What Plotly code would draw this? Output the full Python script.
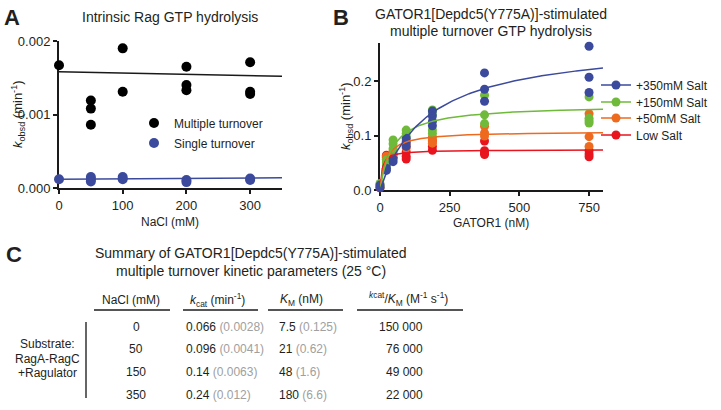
import plotly.graph_objects as go

W, H = 721, 410
FONT = "Liberation Sans, Arial, Helvetica, sans-serif"
TXT = "#231f20"

# ---------------- Panel A data ----------------
a_multi_x = [0, 50, 50, 50, 100, 100, 200, 200, 200, 300, 300, 300]
a_multi_y = [0.00167, 0.00119, 0.00108, 0.00086, 0.00190, 0.00131,
             0.00165, 0.00140, 0.00133, 0.00171, 0.00131, 0.00128]
a_single_x = [0, 50, 50, 50, 100, 100, 200, 200, 300, 300]
a_single_y = [0.00012, 0.00015, 0.00012, 0.00009, 0.00015, 0.00012,
              0.00011, 0.00008, 0.00013, 0.00011]
a_fit_intercept = [0.00158, 0.00012]   # multiple, single
a_fit_slope = [-1.7e-7, 5.7e-8]
a_fit_x = [0, 350]

# ---------------- Panel B data ----------------
b_names = ["+350mM Salt", "+150mM Salt", "+50mM Salt", "Low Salt"]
b_colors = ["#3B4A9C", "#6FBA3A", "#EE6A1F", "#E8141E"]

b350_x = [0, 0, 23, 23, 47, 47, 94, 94, 94, 188, 188, 188, 188, 375, 375, 375, 750, 750, 750]
b350_y = [0.009, 0.004, 0.040, 0.036, 0.052, 0.057, 0.095, 0.087, 0.080,
          0.145, 0.136, 0.126, 0.118, 0.215, 0.185, 0.163, 0.264, 0.207, 0.179]
b150_x = [0, 0, 23, 23, 23, 47, 47, 47, 94, 94, 94, 188, 188, 188, 188, 375, 375, 375, 750, 750, 750, 750]
b150_y = [0.012, 0.006, 0.055, 0.050, 0.045, 0.092, 0.085, 0.076, 0.110, 0.104, 0.098,
          0.147, 0.140, 0.110, 0.104, 0.174, 0.138, 0.122, 0.171, 0.132, 0.127, 0.123]
b50_x = [0, 23, 23, 23, 47, 47, 94, 94, 94, 188, 188, 188, 375, 375, 375, 750, 750, 750]
b50_y = [0.008, 0.062, 0.058, 0.055, 0.072, 0.066, 0.090, 0.083, 0.077,
         0.097, 0.092, 0.086, 0.117, 0.105, 0.099, 0.140, 0.098, 0.080]
blow_x = [0, 23, 23, 23, 47, 47, 94, 94, 94, 188, 188, 188, 375, 375, 375, 375, 750, 750, 750]
blow_y = [0.004, 0.064, 0.060, 0.056, 0.066, 0.060, 0.070, 0.062, 0.057,
          0.090, 0.080, 0.073, 0.090, 0.072, 0.068, 0.065, 0.072, 0.066, 0.061]
b_fit_vmax = [0.272, 0.157, 0.108, 0.074]
b_fit_km = [172, 46, 21, 7.5]
b_fit_xmax = 800

# ---------------- Panel C table ----------------
c_nacl = ["0", "50", "150", "350"]
c_kcat = ["0.066", "0.096", "0.14", "0.24"]
c_kcat_err = ["0.0028", "0.0041", "0.0063", "0.012"]
c_km = ["7.5", "21", "48", "180"]
c_km_err = ["0.125", "0.62", "1.6", "6.6"]
c_eff = ["150 000", "76 000", "49 000", "22 000"]


def px(x):
    return x / W


def py(y):
    return 1 - y / H


fig = go.Figure()

# ---- Panel A traces ----
fig.add_trace(go.Scatter(
    x=a_fit_x, y=[a_fit_intercept[0] + a_fit_slope[0] * v for v in a_fit_x],
    mode="lines", line=dict(color="#1a1a1a", width=1.5), showlegend=False,
    xaxis="x", yaxis="y", hoverinfo="skip"))
fig.add_trace(go.Scatter(
    x=a_fit_x, y=[a_fit_intercept[1] + a_fit_slope[1] * v for v in a_fit_x],
    mode="lines", line=dict(color="#3B4A9C", width=1.5), showlegend=False,
    xaxis="x", yaxis="y", hoverinfo="skip"))
fig.add_trace(go.Scatter(
    x=a_multi_x, y=a_multi_y, mode="markers", name="Multiple turnover",
    marker=dict(color="#000000", size=10), xaxis="x", yaxis="y",
    cliponaxis=False, legend="legend"))
fig.add_trace(go.Scatter(
    x=a_single_x, y=a_single_y, mode="markers", name="Single turnover",
    marker=dict(color="#3B4A9C", size=10), xaxis="x", yaxis="y",
    cliponaxis=False, legend="legend2"))

# ---- Panel B traces ----
b_xs = [b350_x, b150_x, b50_x, blow_x]
b_ys = [b350_y, b150_y, b50_y, blow_y]
n = 200
curve_x = [b_fit_xmax * i / n for i in range(n + 1)]
order = [3, 2, 1, 0]  # draw low salt first, +350 on top
for i in order:
    fig.add_trace(go.Scatter(
        x=b_xs[i], y=b_ys[i], mode="markers", marker=dict(color=b_colors[i], size=9),
        showlegend=False, xaxis="x2", yaxis="y2", cliponaxis=False))
for i in order:
    vm, k = b_fit_vmax[i], b_fit_km[i]
    fig.add_trace(go.Scatter(
        x=curve_x, y=[vm * v / (k + v) for v in curve_x], mode="lines",
        line=dict(color=b_colors[i], width=1.5), showlegend=False,
        xaxis="x2", yaxis="y2", hoverinfo="skip"))
# legend entries (line + marker symbol)
for i in range(4):
    fig.add_trace(go.Scatter(
        x=[None], y=[None], mode="lines+markers", name=b_names[i],
        line=dict(color=b_colors[i], width=1.5), marker=dict(color=b_colors[i], size=9),
        xaxis="x2", yaxis="y2", legend="legend%d" % (i + 3)))

axis_common = dict(showline=True, linecolor="#1a1a1a", linewidth=2, ticks="outside",
                   ticklen=4, tickwidth=2, tickcolor="#1a1a1a", showgrid=False,
                   zeroline=False, layer="below traces", automargin=False,
                   tickfont=dict(family=FONT, size=13, color=TXT))

layout = dict(
    width=W, height=H, margin=dict(l=0, r=0, t=0, b=0, pad=0, autoexpand=False),
    autosize=False,
    paper_bgcolor="white", plot_bgcolor="white",
    font=dict(family=FONT, color=TXT),
    xaxis=dict(axis_common, domain=[px(59), px(282)], range=[0, 350],
               tickvals=[0, 100, 200, 300], anchor="y"),
    yaxis=dict(axis_common, domain=[py(188), py(41)], range=[0, 0.002],
               tickvals=[0, 0.001, 0.002], tickformat=".3f", anchor="x"),
    xaxis2=dict(axis_common, domain=[px(380), px(603)], range=[0, 800],
                tickvals=[0, 250, 500, 750], anchor="y2"),
    yaxis2=dict(axis_common, domain=[py(190), py(43)], range=[0, 0.27],
                tickvals=[0, 0.1, 0.2], tickformat=".1f", anchor="x2"),
)

# legends positioned individually
leg_base = dict(xanchor="left", yanchor="middle", bgcolor="rgba(0,0,0,0)",
                borderwidth=0, font=dict(family=FONT, size=12, color=TXT),
                itemwidth=30)
leg_pos = {
    "legend": (134, 123), "legend2": (134, 143),
    "legend3": (596, 85), "legend4": (596, 102), "legend5": (596, 118), "legend6": (596, 135),
}
for key, (lx, ly) in leg_pos.items():
    layout[key] = dict(leg_base, x=px(lx), y=py(ly))

annotations = []


def ann(text, x, y, size=13, xanchor="center", yanchor="middle", angle=0, color=TXT, bold=False):
    if bold:
        text = "<b>%s</b>" % text
    annotations.append(dict(text=text, x=px(x), y=py(y), xref="paper", yref="paper",
                            showarrow=False, xanchor=xanchor, yanchor=yanchor,
                            textangle=angle, font=dict(family=FONT, size=size, color=color)))


# panel letters and titles
ann("A", 12, 17, size=22, bold=True)
ann("B", 341, 17, size=22, bold=True)
ann("C", 14, 254, size=22, bold=True)
ann("Intrinsic Rag GTP hydrolysis", 170, 17, size=14)
ann("GATOR1[Depdc5(Y775A)]-stimulated", 491, 14, size=14)
ann("multiple turnover GTP hydrolysis", 491, 31, size=14)
ann("<i>k</i><sub>obsd</sub> (min<sup>-1</sup>)", 18, 114, size=13, angle=-90)
ann("<i>k</i><sub>obsd</sub> (min<sup>-1</sup>)", 346, 116, size=13, angle=-90)
ann("NaCl (mM)", 170, 222, size=12)
ann("GATOR1 (nM)", 491, 223, size=12)

# panel C
ann("Summary of GATOR1[Depdc5(Y775A)]-stimulated", 251, 253, size=14)
ann("multiple turnover kinetic parameters (25 °C)", 251, 271, size=14)
ann("NaCl (mM)", 131, 300, size=12)
ann("<i>k</i><sub>cat</sub> (min<sup>-1</sup>)", 218, 300, size=12)
ann("<i>K</i><sub>M</sub> (nM)", 301, 300, size=12)
ann("<sup><i>k</i>cat</sup>/<i>K</i><sub>M</sub> (M<sup>-1</sup> s<sup>-1</sup>)", 408, 299, size=12)

row_y = [327, 349, 372, 395]
GRAY = "#a0a0a0"
for i in range(4):
    yy = row_y[i]
    ann(c_nacl[i], 136, yy, size=12)
    ann("%s <span style='color:%s'>(%s)</span>" % (c_kcat[i], GRAY, c_kcat_err[i]),
        184, yy, size=12, xanchor="left")
    ann("%s <span style='color:%s'>(%s)</span>" % (c_km[i], GRAY, c_km_err[i]),
        277, yy, size=12, xanchor="left")
    ann(c_eff[i], 425, yy, size=12, xanchor="right")

ann("Substrate:", 47, 344, size=12)
ann("RagA-RagC", 47, 359, size=12)
ann("+Ragulator", 47, 373, size=12)

shapes = []
for x0, x1 in [(94, 170), (183, 258), (268, 343), (357, 463)]:
    shapes.append(dict(type="line", xref="paper", yref="paper", x0=px(x0), x1=px(x1),
                       y0=py(310), y1=py(310), line=dict(color="#555555", width=2)))
shapes.append(dict(type="line", xref="paper", yref="paper", x0=px(86), x1=px(86),
                   y0=py(322), y1=py(398), line=dict(color="#333333", width=1.5)))

layout["annotations"] = annotations
layout["shapes"] = shapes
fig.update_layout(**layout)

fig.write_html("out.html", config={"displayModeBar": False},
               post_script="document.body.style.margin='0';document.body.style.overflow='hidden';")
